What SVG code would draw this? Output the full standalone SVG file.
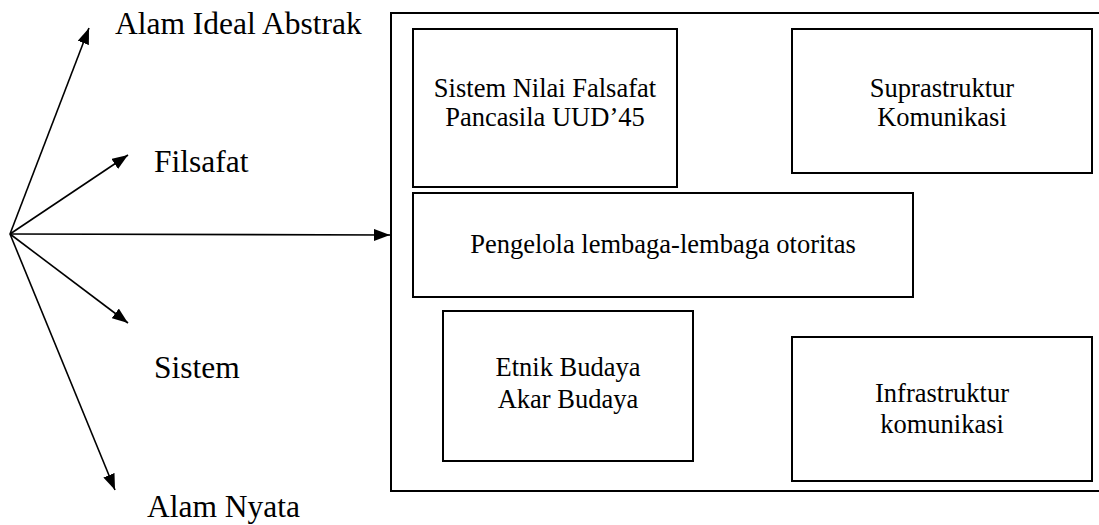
<svg xmlns="http://www.w3.org/2000/svg" width="1099" height="525" viewBox="0 0 1099 525">
<style>
.box{fill:none;stroke:#000;stroke-width:2}
.ln{fill:none;stroke:#000;stroke-width:1.6}
.lbl{font-family:"Liberation Serif","Times New Roman",serif;font-size:31.5px;fill:#000}
.t{font-family:"Liberation Serif","Times New Roman",serif;font-size:26.5px;fill:#000;text-anchor:middle}
</style>
<defs>
<marker id="ah" markerWidth="16" markerHeight="12" viewBox="0 0 16 12" refX="16" refY="6" orient="auto" markerUnits="userSpaceOnUse">
<path d="M0,0 L16,6 L0,12 Z" fill="#000"/>
</marker>
</defs>
<rect width="1099" height="525" fill="#fff"/>
<g id="connectors">
<line class="ln" x1="10" y1="234" x2="89" y2="28" marker-end="url(#ah)"/>
<line class="ln" x1="10" y1="234" x2="128" y2="155" marker-end="url(#ah)"/>
<line class="ln" x1="10" y1="234" x2="390" y2="235" marker-end="url(#ah)"/>
<line class="ln" x1="10" y1="234" x2="128" y2="323" marker-end="url(#ah)"/>
<line class="ln" x1="10" y1="234" x2="115" y2="490" marker-end="url(#ah)"/>
</g>
<g id="label-alam-ideal"><text class="lbl" x="115" y="34">Alam Ideal Abstrak</text></g>
<g id="label-filsafat"><text class="lbl" x="154" y="172">Filsafat</text></g>
<g id="label-sistem"><text class="lbl" x="154" y="378">Sistem</text></g>
<g id="label-alam-nyata"><text class="lbl" x="147" y="517">Alam Nyata</text></g>
<g id="outer"><rect class="box" x="391" y="13" width="720" height="478"/></g>
<g id="node-sistem-nilai">
<rect class="box" x="413" y="29" width="264" height="158"/>
<text class="t" x="545" y="97">Sistem Nilai Falsafat</text>
<text class="t" x="545" y="126">Pancasila UUD’45</text>
</g>
<g id="node-suprastruktur">
<rect class="box" x="792" y="29" width="300" height="144"/>
<text class="t" x="942" y="97">Suprastruktur</text>
<text class="t" x="942" y="126">Komunikasi</text>
</g>
<g id="node-pengelola">
<rect class="box" x="413" y="193" width="500" height="104"/>
<text class="t" x="663" y="253">Pengelola lembaga-lembaga otoritas</text>
</g>
<g id="node-etnik">
<rect class="box" x="443" y="311" width="250" height="150"/>
<text class="t" x="568" y="376">Etnik Budaya</text>
<text class="t" x="568" y="408">Akar Budaya</text>
</g>
<g id="node-infrastruktur">
<rect class="box" x="792" y="337" width="300" height="144"/>
<text class="t" x="942" y="402">Infrastruktur</text>
<text class="t" x="942" y="433">komunikasi</text>
</g>
</svg>
